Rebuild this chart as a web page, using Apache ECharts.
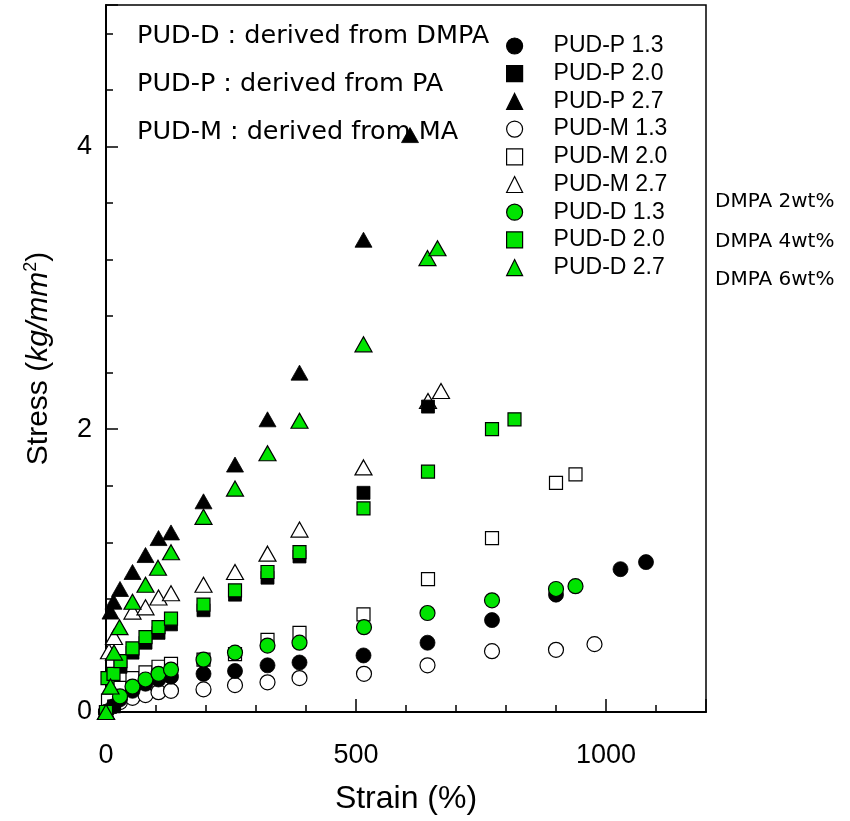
<!DOCTYPE html>
<html><head><meta charset="utf-8">
<script src="https://cdn.jsdelivr.net/npm/echarts@6/dist/echarts.min.js"></script>
<style>html,body{margin:0;padding:0;background:#fff}#c{width:850px;height:821px}</style>
</head><body><div id="c"></div>
<script>
// ---- data (strain %, stress kg/mm^2) ----
const pudP13 = [[0,0],[15,0.04],[28,0.09],[53,0.15],[79,0.20],[105,0.23],[130,0.25],[195,0.27],[258,0.29],[323,0.33],[387,0.35],[515,0.40],[643,0.49],[772,0.65],[900,0.83],[1029,1.01],[1080,1.06]];
const pudP20 = [[0,0],[16,0.04],[29,0.32],[53,0.42],[79,0.49],[105,0.56],[130,0.62],[195,0.72],[258,0.83],[323,0.95],[387,1.10],[515,1.55],[644,2.16]];
const pudP27 = [[0,0],[9,0.71],[15,0.78],[28,0.87],[53,0.99],[79,1.11],[105,1.23],[130,1.27],[195,1.49],[258,1.75],[323,2.07],[387,2.40],[515,3.34],[608,4.08]];
const pudM13 = [[0,0],[28,0.07],[53,0.10],[79,0.12],[105,0.14],[130,0.15],[195,0.16],[258,0.19],[323,0.21],[387,0.24],[516,0.27],[643,0.33],[772,0.43],[900,0.44],[977,0.48]];
const pudM20 = [[0,0],[4,0.08],[28,0.17],[53,0.24],[79,0.28],[105,0.32],[130,0.34],[195,0.37],[258,0.41],[323,0.51],[387,0.56],[515,0.69],[644,0.94],[772,1.23],[900,1.62],[939,1.68]];
const pudM27 = [[0,0],[6,0.43],[16,0.53],[53,0.71],[79,0.74],[105,0.81],[130,0.84],[195,0.90],[258,0.99],[323,1.12],[387,1.29],[515,1.73],[644,2.20],[670,2.27]];
const pudD13 = [[0,0],[28,0.11],[53,0.18],[79,0.23],[105,0.27],[130,0.30],[195,0.37],[258,0.42],[323,0.47],[387,0.49],[516,0.60],[643,0.70],[772,0.79],[900,0.87],[939,0.89]];
const pudD20 = [[0,0],[3,0.24],[15,0.27],[29,0.36],[53,0.45],[79,0.53],[105,0.60],[130,0.66],[195,0.76],[258,0.86],[323,0.99],[387,1.13],[515,1.44],[644,1.70],[772,2.00],[817,2.07]];
const pudD27 = [[0,0],[9,0.18],[16,0.42],[27,0.60],[53,0.78],[79,0.90],[104,1.02],[130,1.13],[195,1.38],[258,1.58],[323,1.83],[387,2.06],[515,2.60],[643,3.21],[663,3.28]];

const legendOrder = ['PUD-P 1.3','PUD-P 2.0','PUD-P 2.7','PUD-M 1.3','PUD-M 2.0','PUD-M 2.7','PUD-D 1.3','PUD-D 2.0','PUD-D 2.7'];
const noteLines = ['PUD-D : derived from DMPA','PUD-P : derived from PA','PUD-M : derived from MA'];
const dmpaLabels = ['DMPA 2wt%','DMPA 4wt%','DMPA 6wt%'];
const xLabelValues = [0, 500, 1000];
const yLabelValues = [0, 2, 4];

const GREEN = '#00e400';
const fillP = '#000', fillM = '#fff', fillD = GREEN;
function sym(shape){ return shape==='circle' ? 15 : shape==='rect' ? 13 : [17,15]; }
function mk(name, data, shape, fill){
  return {
    name, type:'scatter', data, symbol: shape, symbolSize: sym(shape),
    itemStyle:{color: fill, borderColor:'#000', borderWidth: fill==='#000'?0.8:1.2, opacity:1},
    emphasis:{disabled:true}, xAxisIndex:0, yAxisIndex:0
  };
}
// draw order: M first, then P, then D on top
const series = [
  mk('PUD-M 1.3', pudM13, 'circle', fillM),
  mk('PUD-M 2.0', pudM20, 'rect', fillM),
  mk('PUD-M 2.7', pudM27, 'triangle', fillM),
  mk('PUD-P 1.3', pudP13, 'circle', fillP),
  mk('PUD-P 2.0', pudP20, 'rect', fillP),
  mk('PUD-P 2.7', pudP27, 'triangle', fillP),
  mk('PUD-D 1.3', pudD13, 'circle', fillD),
  mk('PUD-D 2.0', pudD20, 'rect', fillD),
  mk('PUD-D 2.7', pudD27, 'triangle', fillD)
];

const AX = 'Liberation Sans, Arial, sans-serif';
const NOTE = 'DejaVu Sans, sans-serif';
const noteY = [36, 84, 132];
const dmpaY = [202, 242, 280];

const graphics = [];
noteLines.forEach((t,i)=>graphics.push({type:'text', x:137, y:noteY[i], z:1,
  style:{text:t, fontSize:25.5, fontFamily:NOTE, fill:'#000', verticalAlign:'middle', align:'left'}}));
dmpaLabels.forEach((t,i)=>graphics.push({type:'text', x:715, y:dmpaY[i],
  style:{text:t, fontSize:20, fontFamily:NOTE, fill:'#000', verticalAlign:'middle', align:'left'}}));

const chart = echarts.init(document.getElementById('c'), null, {renderer:'canvas'});
chart.setOption({
  animation:false,
  backgroundColor:'#fff',
  grid:{left:106, top:5, width:600, height:707, show:true, borderColor:'#000', borderWidth:1.5, backgroundColor:'transparent'},
  legend:{
    data: legendOrder, orient:'vertical', left:506, top:34.5, padding:0,
    itemWidth:16, itemHeight:16, itemGap:4.7, selectedMode:false,
    itemStyle:{borderWidth:1.2},
    formatter: name => '{g|}{t|' + name + '}',
    textStyle:{fontFamily:AX, fontSize:23, color:'#000',
      rich:{g:{width:26, fontSize:23}, t:{fontFamily:AX, fontSize:23, color:'#000'}}}
  },
  xAxis:[{
    type:'value', min:0, max:1200, interval:100,
    name:'Strain (%)', nameLocation:'middle', nameGap:71,
    nameTextStyle:{fontFamily:AX, fontSize:32, color:'#000'},
    axisLine:{lineStyle:{color:'#000', width:2}},
    axisTick:{inside:true, length:7, lineStyle:{color:'#000', width:1.5}},
    axisLabel:{margin:30, fontFamily:AX, fontSize:27, color:'#000',
      formatter:v=> xLabelValues.includes(Math.round(v)) && Math.abs(v-Math.round(v))<1e-6 ? String(Math.round(v)) : ''},
    splitLine:{show:false}
  },{
    type:'value', min:0, max:1200, interval:500, position:'bottom',
    axisLine:{show:false}, axisLabel:{show:false}, splitLine:{show:false},
    axisTick:{inside:true, length:13, lineStyle:{color:'#000', width:1.5}}
  }],
  yAxis:[{
    type:'value', min:0, max:5, interval:0.4,
    name:'{n|Stress (}{i|kg/mm}{s|2}{n|)}', nameLocation:'middle', nameGap:50,
    nameTextStyle:{color:'#000', rich:{
      n:{fontFamily:AX, fontSize:30, lineHeight:34, color:'#000'},
      i:{fontFamily:AX, fontSize:30, lineHeight:34, fontStyle:'italic', color:'#000'},
      s:{fontFamily:AX, fontSize:18, lineHeight:20, verticalAlign:'top', color:'#000'}
    }},
    axisLine:{lineStyle:{color:'#000', width:2}},
    axisTick:{inside:true, length:7, lineStyle:{color:'#000', width:1.5}},
    axisLabel:{margin:14, fontFamily:AX, fontSize:27, color:'#000',
      formatter:v=>{ const r=Math.round(v); return (Math.abs(v-r)<1e-6 && yLabelValues.includes(r)) ? String(r) : ''; }},
    splitLine:{show:false}
  },{
    type:'value', min:0, max:5, interval:2, position:'left',
    axisLine:{show:false}, axisLabel:{show:false}, splitLine:{show:false},
    axisTick:{inside:true, length:12, lineStyle:{color:'#000', width:1.5}}
  }],
  graphic: graphics,
  series
});
</script></body></html>
